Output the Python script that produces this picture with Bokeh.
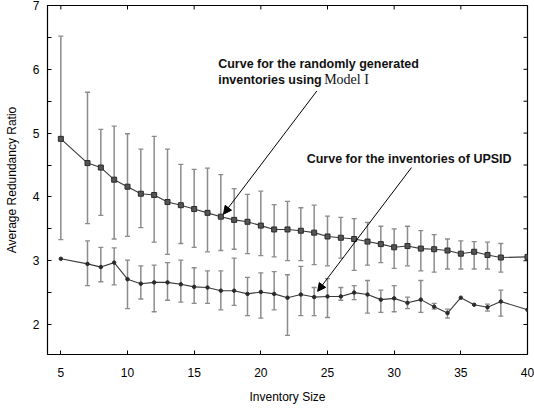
import math
from bokeh.plotting import figure
from bokeh.models import (ColumnDataSource, Whisker, TeeHead, Arrow, NormalHead,
                          FixedTicker, Range1d)
from bokeh.core.properties import value
from bokeh.embed import file_html
from bokeh.resources import INLINE

# ---------------- data ----------------
inventory_size = [5, 7, 8, 9, 10, 11, 12, 13, 14, 15, 16, 17, 18, 19, 20, 21, 22,
                  23, 24, 25, 26, 27, 28, 29, 30, 31, 32, 33, 34, 35, 36, 37, 38, 40]

model_mean = [4.91, 4.53, 4.46, 4.27, 4.16, 4.05, 4.03, 3.92, 3.87, 3.81, 3.75, 3.69,
              3.64, 3.61, 3.55, 3.49, 3.49, 3.47, 3.44, 3.38, 3.36, 3.34, 3.30, 3.26,
              3.21, 3.23, 3.19, 3.18, 3.16, 3.11, 3.14, 3.09, 3.05, 3.06]
model_upper = [6.52, 5.64, 5.06, 5.11, 4.99, 4.75, 4.95, 4.75, 4.51, 4.43, 4.45, 4.35,
               4.13, 4.04, 4.09, 3.88, 3.93, 3.83, 3.87, 3.70, 3.68, 3.66, 3.60, 3.54,
               3.50, 3.54, 3.47, 3.41, 3.34, 3.31, 3.30, 3.29, 3.27, None]
model_lower = [3.33, 3.58, 3.71, 3.34, 3.38, 3.52, 3.29, 3.10, 3.27, 3.21, 3.14, 3.16,
               3.18, 3.11, 3.08, 3.06, 3.00, 3.00, 2.94, 2.92, 3.04, 2.85, 2.93, 2.97,
               2.88, 2.92, 2.84, 2.82, 2.87, 2.87, 2.87, 2.87, 2.82, None]

upsid_mean = [3.03, 2.95, 2.90, 2.97, 2.71, 2.64, 2.66, 2.66, 2.63, 2.59, 2.58, 2.53,
              2.53, 2.48, 2.51, 2.48, 2.42, 2.47, 2.43, 2.44, 2.44, 2.50, 2.47, 2.39,
              2.41, 2.34, 2.39, 2.28, 2.18, 2.42, 2.31, 2.27, 2.36, 2.23]
upsid_upper = [None, 3.31, 3.21, 3.20, 3.01, 2.92, 2.93, 2.97, 3.01, 2.89, 2.84, 2.84,
               3.04, 2.74, 2.81, 2.83, 2.78, 2.91, 2.58, 2.72, 2.58, 2.61, 2.69, 2.54,
               2.61, 2.43, 2.69, 2.33, 2.24, None, None, 2.32, 2.54, None]
upsid_lower = [None, 2.61, 2.67, 2.62, 2.25, 2.40, 2.20, 2.38, 2.35, 2.33, 2.33, 2.23,
               2.30, 2.14, 2.10, 2.23, 1.83, 2.14, 2.14, 2.11, 2.38, 2.39, 2.18, 2.19,
               2.20, 2.25, 2.19, 2.24, 2.10, None, None, 2.21, 2.13, None]

x_ticks = [5, 10, 15, 20, 25, 30, 35, 40]
y_ticks = [2, 3, 4, 5, 6, 7]
y_minor_ticks = [2.5, 3.5, 4.5, 5.5, 6.5]

label_model_1 = "Curve for the randomly generated"
label_model_2 = "inventories using"
label_model_3 = "Model I"
label_upsid = "Curve for the inventories of UPSID"

X_MIN, X_MAX = 4.0, 40.0
Y_MIN, Y_MAX = 1.53, 7.0

# ---------------- figure ----------------
SANS = "Liberation Sans"
p = figure(width=534, height=408, output_backend="svg", toolbar_location=None,
           x_range=Range1d(X_MIN, X_MAX), y_range=Range1d(Y_MIN, Y_MAX),
           min_border_left=47, min_border_right=7, min_border_top=5,
           min_border_bottom=54)
p.background_fill_color = "white"
p.border_fill_color = "white"
p.outline_line_color = "black"
p.outline_line_width = 1.2
p.xgrid.visible = False
p.ygrid.visible = False

for ax in (p.xaxis[0], p.yaxis[0]):
    ax.major_tick_in = 4
    ax.major_tick_out = 0
    ax.minor_tick_in = 4
    ax.minor_tick_out = 0
    ax.axis_line_color = None
    ax.major_tick_line_color = "black"
    ax.minor_tick_line_color = "black"
    ax.major_label_text_font = SANS
    ax.major_label_text_font_size = "12px"
    ax.major_label_text_color = "black"
    ax.axis_label_text_font = SANS
    ax.axis_label_text_font_size = "12px"
    ax.axis_label_text_font_style = "normal"
    ax.axis_label_text_color = "black"

p.xaxis.ticker = FixedTicker(ticks=x_ticks)
p.yaxis.ticker = FixedTicker(ticks=y_ticks, minor_ticks=y_minor_ticks)
p.xaxis.axis_label = "Inventory Size"
p.yaxis.axis_label = "Average Redundancy Ratio"
p.xaxis.major_label_standoff = 13
p.xaxis.axis_label_standoff = 10
p.yaxis.major_label_standoff = 8
p.yaxis.axis_label_standoff = 11

# mirrored inward ticks on the top and right frame edges (clipped half of a dash)
p.scatter(x=x_ticks, y=[Y_MAX] * len(x_ticks), marker="dash", angle=math.pi / 2,
          size=8, line_color="black", line_width=1)
p.scatter(x=[X_MAX] * len(y_ticks + y_minor_ticks), y=y_ticks + y_minor_ticks,
          marker="dash", size=8, line_color="black", line_width=1)

# ---------------- error bars ----------------
BAR = "#8c8c8c"


def bars_source(xs, lo, hi):
    keep = [i for i in range(len(xs)) if lo[i] is not None and hi[i] is not None]
    return ColumnDataSource(dict(x=[xs[i] for i in keep],
                                 lower=[lo[i] for i in keep],
                                 upper=[hi[i] for i in keep]))


for lo, hi in ((model_lower, model_upper), (upsid_lower, upsid_upper)):
    w = Whisker(source=bars_source(inventory_size, lo, hi), base="x",
                lower="lower", upper="upper", line_color=BAR, line_width=1.5,
                upper_head=TeeHead(size=5, line_color=BAR, line_width=1.3),
                lower_head=TeeHead(size=5, line_color=BAR, line_width=1.3),
                level="underlay")
    p.add_layout(w)

# ---------------- curves ----------------
LINE = "#3a3a3a"
p.line(inventory_size, model_mean, line_color=LINE, line_width=1.1)
p.scatter(inventory_size, model_mean, marker="square", size=5,
          fill_color="#555555", line_color="#2a2a2a", line_width=1)
p.line(inventory_size, upsid_mean, line_color=LINE, line_width=1.1)
p.scatter(inventory_size, upsid_mean, marker="circle", size=3.5,
          fill_color="#2a2a2a", line_color="#2a2a2a")

# ---------------- annotations ----------------
i_m = inventory_size.index(17)
i_u = inventory_size.index(24)
p.add_layout(Arrow(end=NormalHead(size=8, fill_color="black", line_color="black"),
                   x_start=24.2, y_start=5.66,
                   x_end=inventory_size[i_m] + 0.2, y_end=model_mean[i_m] + 0.04,
                   line_color="black", line_width=1))
p.add_layout(Arrow(end=NormalHead(size=8, fill_color="black", line_color="black"),
                   x_start=31.3, y_start=4.46,
                   x_end=inventory_size[i_u] + 0.26, y_end=upsid_mean[i_u] + 0.09,
                   line_color="black", line_width=1))

TX1, TY1 = 16.8, 6.09
p.text(x=[TX1], y=[TY1], text=[label_model_1],
       text_font=value(SANS), text_font_style="bold", text_font_size="12.5px",
       text_baseline="middle", text_align="left", text_color="#111111")
p.text(x=[TX1], y=[TY1], text=[label_model_2], y_offset=16,
       text_font=value(SANS), text_font_style="bold", text_font_size="12.5px",
       text_baseline="middle", text_align="left", text_color="#111111")
p.text(x=[TX1], y=[TY1], text=[label_model_3], x_offset=106, y_offset=16,
       text_font=value("Liberation Serif"), text_font_size="14px",
       text_baseline="middle", text_align="left", text_color="#111111")
p.text(x=[23.44], y=[4.60], text=[label_upsid],
       text_font=value(SANS), text_font_style="bold", text_font_size="12.5px",
       text_baseline="middle", text_align="left", text_color="#111111")

open("out.html", "w").write(file_html(p, INLINE))
